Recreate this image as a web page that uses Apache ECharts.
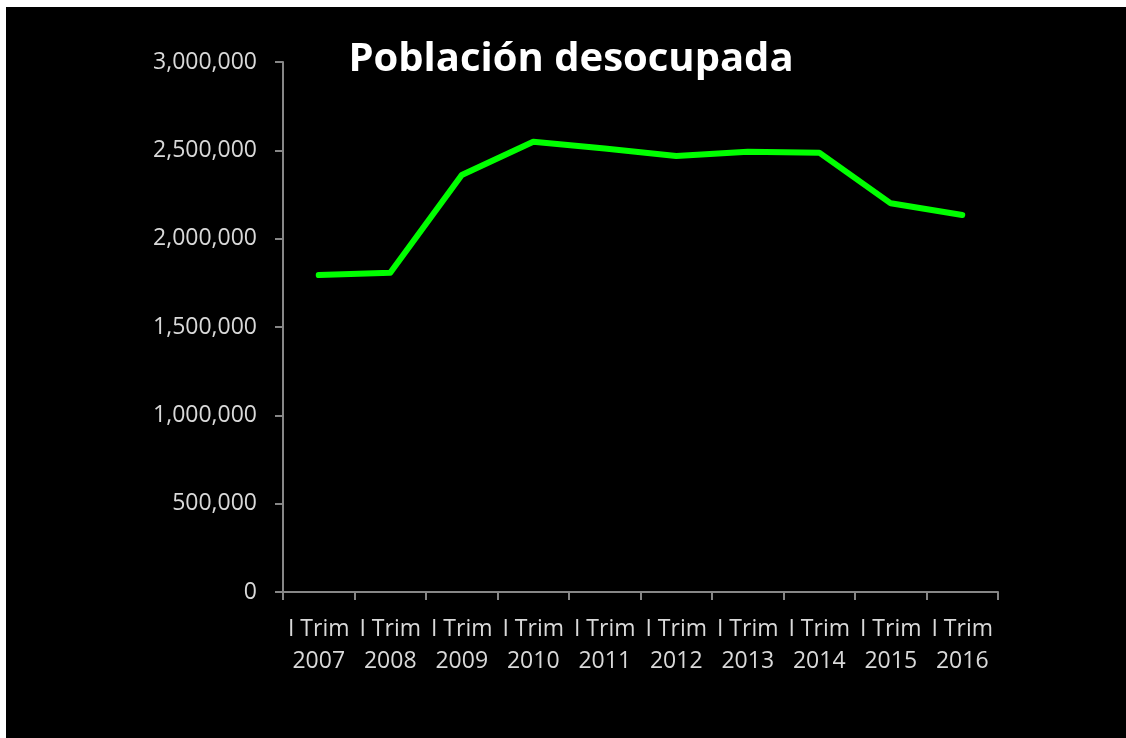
<!DOCTYPE html>
<html>
<head>
<meta charset="utf-8">
<script src="https://cdn.jsdelivr.net/npm/echarts@6/dist/echarts.min.js"></script>
<style>
  html, body { margin: 0; padding: 0; background: #000000; overflow: hidden; width: 100%; height: 100%; }
  .edge { position: absolute; left: 0; top: 0; background: #ffffff; }
  #edge-top { width: 100%; height: 7px; }
  #edge-left { width: 6px; height: 100%; }
  #chart { position: absolute; left: 6px; top: 7px; width: 1120px; height: 731px; background: #000000; }
</style>
</head>
<body>
<div class="edge" id="edge-top"></div>
<div class="edge" id="edge-left"></div>
<div id="chart"></div>
<script>
// Unemployed population, first quarter of each year
const quarter = 'I Trim';
const years = ['2007', '2008', '2009', '2010', '2011', '2012', '2013', '2014', '2015', '2016'];
const desocupados = [1794000, 1807000, 2360000, 2549000, 2511000, 2468000, 2492000, 2487000, 2200000, 2134000];
const yTicks = { min: 0, max: 3000000, interval: 500000 };

const categories = years.map(y => quarter + '\n' + y);
const font = '"Open Sans", "Liberation Sans", sans-serif';

const chart = echarts.init(document.getElementById('chart'));
chart.setOption({
  backgroundColor: '#000000',
  animation: false,
  title: {
    text: 'Población desocupada',
    left: 560,
    top: 28,
    textAlign: 'center',
    textStyle: { color: '#ffffff', fontFamily: font, fontWeight: 'bold', fontSize: 40 }
  },
  grid: { left: 277, right: 128, top: 55, bottom: 146 },
  xAxis: {
    type: 'category',
    data: categories,
    boundaryGap: true,
    axisLine: { lineStyle: { color: '#868686', width: 2 } },
    axisTick: { show: true, length: 8, lineStyle: { color: '#868686', width: 2 } },
    axisLabel: { color: '#d9d9d9', fontFamily: font, fontSize: 23, lineHeight: 32, margin: 21, interval: 0 }
  },
  yAxis: {
    type: 'value',
    min: yTicks.min,
    max: yTicks.max,
    interval: yTicks.interval,
    splitLine: { show: false },
    axisLine: { show: true, lineStyle: { color: '#868686', width: 2 } },
    axisTick: { show: true, length: 8, lineStyle: { color: '#868686', width: 2 } },
    axisLabel: {
      color: '#d9d9d9', fontFamily: font, fontSize: 23, margin: 26,
      formatter: v => v.toLocaleString('en-US')
    }
  },
  series: [{
    type: 'line',
    data: desocupados,
    showSymbol: false,
    symbol: 'none',
    lineStyle: { color: '#00ff00', width: 6, cap: 'round', join: 'round' },
    itemStyle: { color: '#00ff00' }
  }]
});
</script>
</body>
</html>
